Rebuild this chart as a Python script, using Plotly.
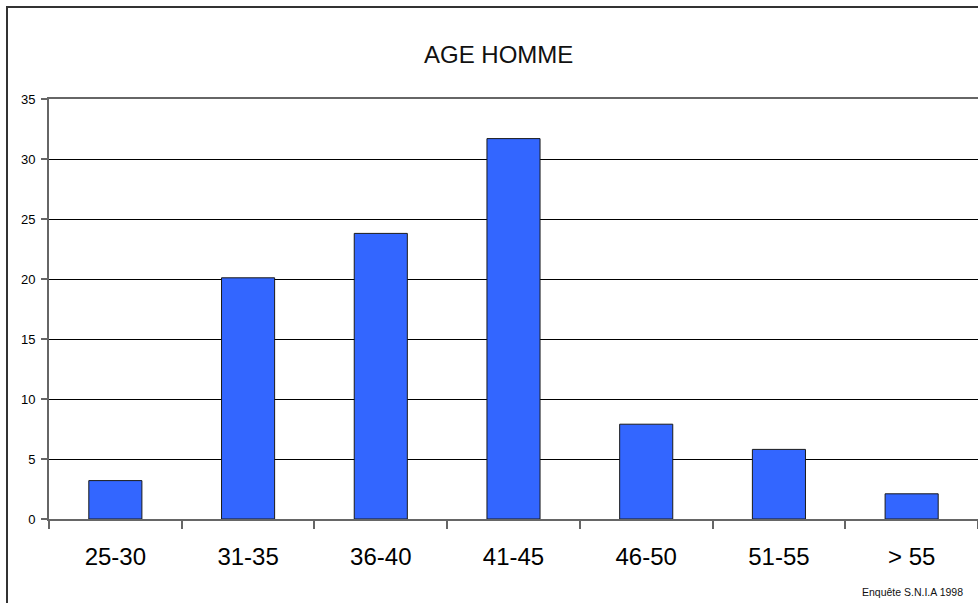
import plotly.graph_objects as go

# Age distribution of men (percent per age bracket)
categories = ["25-30", "31-35", "36-40", "41-45", "46-50", "51-55", "> 55"]
values = [3.2, 20.1, 23.8, 31.7, 7.9, 5.8, 2.1]
y_ticks = [0, 5, 10, 15, 20, 25, 30, 35]

title_text = "AGE HOMME"
source_text = "Enquête S.N.I.A 1998"

FONT = "Liberation Sans, Arial, sans-serif"

fig = go.Figure(
    go.Bar(
        x=categories,
        y=values,
        marker=dict(color="#3366FF", line=dict(color="#1a1a1a", width=1)),
        width=0.4,
        hoverinfo="x+y",
    )
)

W, H = 978, 603
L, T, B, R = 49, 99, 84, 0
pw, ph = W - L - R, H - T - B


def px_x(x):
    return (x - L) / pw


def px_y(y):
    return (H - B - y) / ph


fig.update_layout(
    width=W,
    height=H,
    margin=dict(l=L, r=R, t=T, b=B, pad=0),
    paper_bgcolor="white",
    plot_bgcolor="white",
    font=dict(family=FONT, color="#000000"),
    showlegend=False,
    xaxis=dict(
        type="category",
        tickson="boundaries",
        ticks="outside",
        ticklen=8,
        tickwidth=2,
        tickcolor="#666666",
        showline=True,
        linecolor="#666666",
        linewidth=2,
        mirror=True,
        showgrid=False,
        tickfont=dict(size=24, color="#000000"),
        ticklabelstandoff=15,
    ),
    yaxis=dict(
        range=[0, 35],
        tickvals=y_ticks,
        ticks="outside",
        ticklen=6,
        tickwidth=2,
        tickcolor="#666666",
        showline=True,
        linecolor="#666666",
        linewidth=2,
        showgrid=True,
        gridcolor="#000000",
        gridwidth=1,
        zeroline=False,
        tickfont=dict(size=13, color="#000000"),
        ticklabelstandoff=3,
    ),
    shapes=[
        dict(
            type="rect",
            xref="paper",
            yref="paper",
            x0=px_x(7),
            x1=px_x(W + 20),
            y0=px_y(H + 20),
            y1=px_y(7),
            line=dict(color="#333333", width=2),
            fillcolor="rgba(0,0,0,0)",
            layer="above",
        )
    ],
    annotations=[
        dict(
            text=title_text,
            xref="paper",
            yref="paper",
            x=px_x(498),
            y=px_y(55),
            xanchor="center",
            yanchor="middle",
            showarrow=False,
            font=dict(size=24, color="#111111", family=FONT),
        ),
        dict(
            text=source_text,
            xref="paper",
            yref="paper",
            x=px_x(912.5),
            y=px_y(591.5),
            xanchor="center",
            yanchor="middle",
            showarrow=False,
            font=dict(size=10.5, color="#111111", family=FONT),
        ),
    ],
)

fig.write_html("out.html")
